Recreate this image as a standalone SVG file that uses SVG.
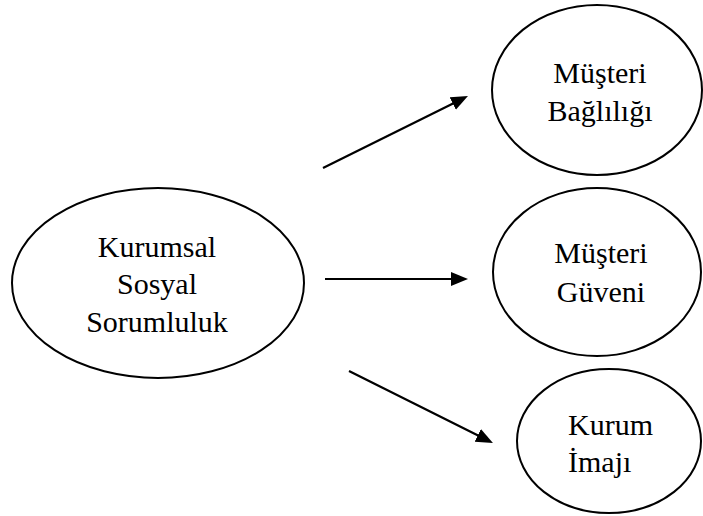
<svg xmlns="http://www.w3.org/2000/svg" width="703" height="516" viewBox="0 0 703 516">
<defs>
<style>
.node{fill:#fff;stroke:#000;stroke-width:2}
.t{font-family:"Liberation Serif","Times New Roman",serif;font-size:30px;fill:#000}
.c{text-anchor:middle}
.edge{stroke:#000;stroke-width:2.2;fill:none}
</style>
<marker id="ah" markerUnits="userSpaceOnUse" markerWidth="18" markerHeight="15" refX="11" refY="7" orient="auto">
<path d="M0,0 L17,7 L0,14 z" fill="#000"/>
</marker>
</defs>
<rect width="703" height="516" fill="#fff"/>
<g id="connectors">
<line class="edge" x1="323" y1="168" x2="462.6" y2="98.7" marker-end="url(#ah)"/>
<line class="edge" x1="325" y1="279" x2="462" y2="279" marker-end="url(#ah)"/>
<line class="edge" x1="349" y1="371" x2="487.6" y2="440.3" marker-end="url(#ah)"/>
</g>
<g id="kss">
<ellipse class="node" cx="158" cy="283" rx="146" ry="95"/>
<text class="t c" x="157" y="257">Kurumsal</text>
<text class="t c" x="157" y="294">Sosyal</text>
<text class="t c" x="157" y="332">Sorumluluk</text>
</g>
<g id="baglilik">
<ellipse class="node" cx="597" cy="90" rx="105" ry="85"/>
<text class="t c" x="600" y="83">Müşteri</text>
<text class="t c" x="600" y="121">Bağlılığı</text>
</g>
<g id="guven">
<ellipse class="node" cx="597" cy="272" rx="104" ry="84"/>
<text class="t c" x="601" y="263">Müşteri</text>
<text class="t c" x="601" y="302">Güveni</text>
</g>
<g id="imaj">
<ellipse class="node" cx="609" cy="441" rx="92" ry="72"/>
<text class="t" x="568" y="435">Kurum</text>
<text class="t" x="568" y="472">İmajı</text>
</g>
</svg>
